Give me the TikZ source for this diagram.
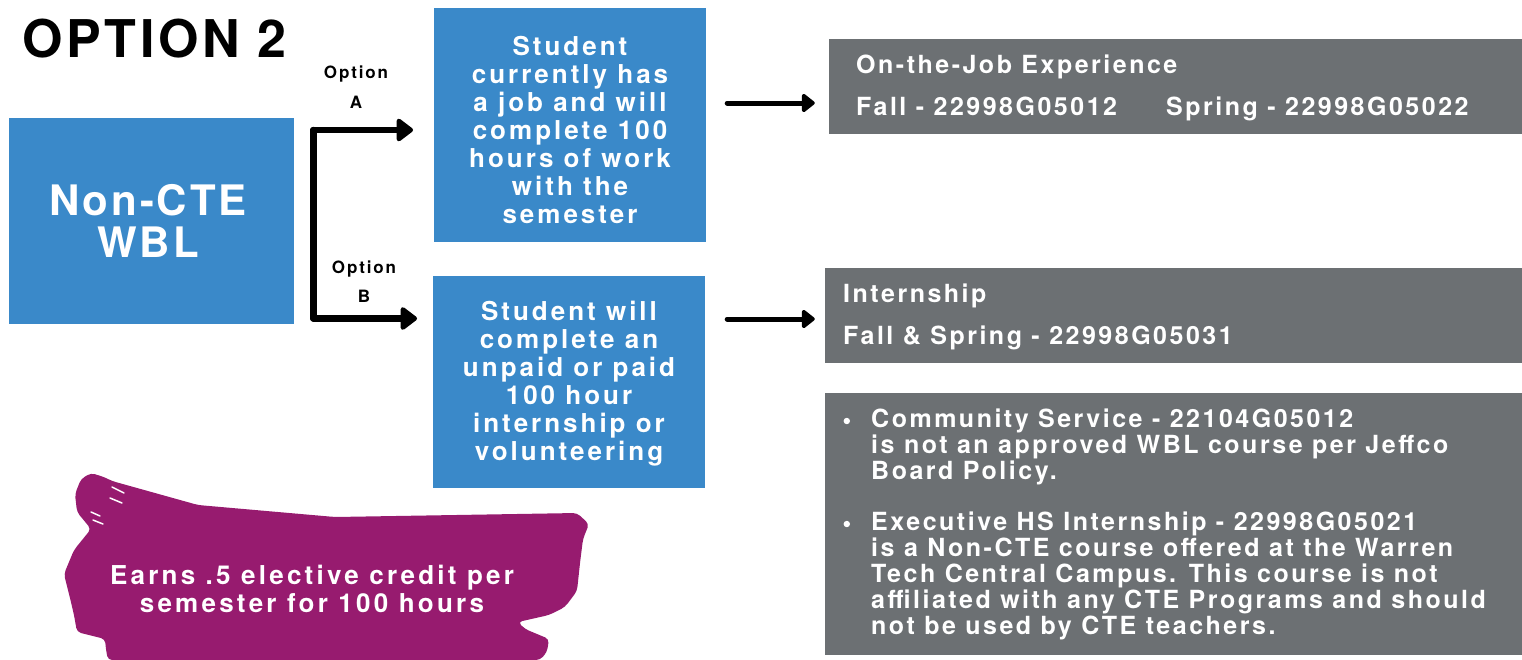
\documentclass[tikz,border=0pt]{standalone}
\usepackage{fontspec}
\usetikzlibrary{arrows.meta}
\setmainfont{TeX Gyre Heros}
\newfontfamily\widefont{TeX Gyre Heros}[LetterSpace=7]
\newfontfamily\midfont{TeX Gyre Heros}[LetterSpace=11.5]
\newfontfamily\optfont{TeX Gyre Heros}[LetterSpace=11]
\newfontfamily\purpfont{TeX Gyre Heros}[LetterSpace=12.5]
\newfontfamily\grayfont{TeX Gyre Heros}[LetterSpace=10]
\definecolor{cblue}{HTML}{3A89C9}
\definecolor{cgray}{HTML}{6C7073}
\definecolor{cpurple}{HTML}{971B6F}
\begin{document}
\begin{tikzpicture}[x=1pt,y=-1pt,
  bluebox/.style={fill=cblue,draw=none,inner sep=0pt},
  graybox/.style={fill=cgray,draw=none,inner sep=0pt},
  bluetext/.style={text=white,align=center,font=\midfont\bfseries\fontsize{26}{28}\selectfont,inner sep=0pt},
  graytext/.style={text=white,anchor=base west,inner sep=0pt,font=\grayfont\bfseries\fontsize{25}{26}\selectfont},
  optlabel/.style={anchor=base,inner sep=0pt,font=\optfont\bfseries\fontsize{17}{20}\selectfont},
  fork/.style={line width=6.5pt,line join=round,line cap=round,-{Triangle[length=18pt,width=26pt,round]}},
  linkarrow/.style={line width=5pt,line cap=round,-{Triangle[length=14pt,width=21pt,round]}}
]
\useasboundingbox (0,0) rectangle (1522,659);

% title
\node[anchor=base west,inner sep=0pt,font=\widefont\bfseries\fontsize{52}{52}\selectfont] (title) at (22,57) {OPTION 2};

% main boxes
\node[bluebox,minimum width=285pt,minimum height=206pt] (wbl) at (151.5,221) {};
\node[text=white,align=center,inner sep=0pt,font=\widefont\bfseries\fontsize{42}{42}\selectfont,anchor=base] (wbltxt) at (148,257) {Non-CTE\\WBL};

\node[bluebox,minimum width=272pt,minimum height=234pt] (boxA) at (570,125) {};
\node[bluetext,anchor=base] (boxAtxt) at (570,223) {Student\\currently has\\a job and will\\complete 100\\hours of work\\with the\\semester};

\node[bluebox,minimum width=272pt,minimum height=212pt] (boxB) at (569,382) {};
\node[bluetext,anchor=base] (boxBtxt) at (569,460) {Student will\\complete an\\unpaid or paid\\100 hour\\internship or\\volunteering};

% fork connector
\coordinate (forkA) at (313.5,130);
\coordinate (forkB) at (313.5,318.5);
\coordinate (tipA) at (413,130);
\coordinate (tipB) at (417,318.5);
\draw[fork] (forkB) -- (forkA) -- (tipA);
\draw[fork] (forkA) -- (forkB) -- (tipB);

\node[optlabel] (optA1) at (356,78) {Option};
\node[optlabel] (optA2) at (356,108) {A};
\node[optlabel] (optB1) at (364,273) {Option};
\node[optlabel] (optB2) at (364,302) {B};

% gray boxes
\node[graybox,minimum width=693pt,minimum height=95pt] (g1) at (1175.5,86.5) {};
\node[graytext] (g1a) at (856,73) {On-the-Job Experience};
\node[graytext] (g1b) at (856,115) {Fall - 22998G05012};
\node[graytext] (g1c) at (1166,115) {Spring - 22998G05022};

\node[graybox,minimum width=697pt,minimum height=95pt] (g2) at (1173.5,315.5) {};
\node[graytext] (g2a) at (843,302) {Internship};
\node[graytext] (g2b) at (843,344) {Fall \& Spring - 22998G05031};

\node[graybox,minimum width=697pt,minimum height=262pt] (g3) at (1173.5,524) {};
\fill[white] (g3.west) ++(22,-103) circle (3.2pt);
\fill[white] (g3.west) ++(22,0) circle (3.2pt);
\node[graytext] (b1a) at (871,427) {Community Service - 22104G05012};
\node[graytext] (b1b) at (871,453) {is not an approved WBL course per Jeffco};
\node[graytext] (b1c) at (871,479) {Board Policy.};
\node[graytext] (b2a) at (871,530) {Executive HS Internship - 22998G05021};
\node[graytext] (b2b) at (871,556) {is a Non-CTE course offered at the Warren};
\node[graytext] (b2c) at (871,582) {Tech Central Campus. This course is not};
\node[graytext] (b2d) at (871,608) {affiliated with any CTE Programs and should};
\node[graytext] (b2e) at (871,634) {not be used by CTE teachers.};

% small arrows
\draw[linkarrow,shorten >=14pt] (boxA.east) ++(21,-22) coordinate (sa) -- (g1.west |- sa);
\draw[linkarrow,shorten >=10pt] (boxB.east) ++(22,-63) coordinate (sb) -- (g2.west |- sb);

% purple brush
\fill[cpurple,rounded corners=4pt] (91,473) -- (104,477) -- (112,481) -- (198,505) -- (335,517) -- (577,513)
  -- (589,524) -- (583,539) -- (580,563) -- (577,591) -- (565,607) -- (549,615) -- (518,622)
  -- (525,629) -- (549,639) -- (547,652) -- (540,660) -- (108,660) -- (106,650) -- (105,639)
  -- (77,632) -- (74,615) -- (70,598) -- (64,574) -- (74,550) -- (91,529) -- (77,512)
  -- (75,494) -- (81,479) -- cycle;
\draw[white,line width=1.5pt,line cap=round] (112,487) -- (124,493) (110,498) -- (122,503) (91,512) -- (100,516) (93,520) -- (103,524);
\node[text=white,align=center,inner sep=0pt,anchor=base,font=\purpfont\bfseries\fontsize{26}{28}\selectfont] (credit) at (312,612) {Earns .5 elective credit per\\semester for 100 hours};
\end{tikzpicture}
\end{document}
